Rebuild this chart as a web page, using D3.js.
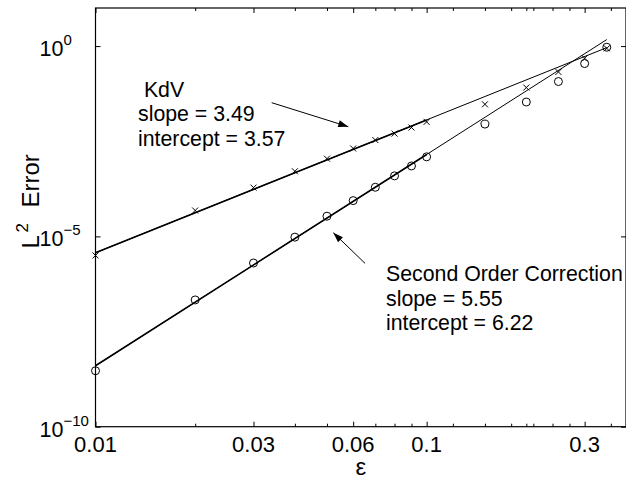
<!DOCTYPE html>
<html>
<head>
<meta charset="utf-8">
<script src="https://cdn.jsdelivr.net/npm/d3@7"></script>
<style>
  body { margin: 0; background: #fff; }
  svg { display: block; font-family: "Liberation Sans", Arial, Helvetica, sans-serif; }
</style>
</head>
<body>
<svg></svg>
<script>
// epsilon values used in the runs
let epsilon = [0.01, 0.02, 0.03, 0.04, 0.05, 0.06, 0.07, 0.08, 0.09, 0.1, 0.15, 0.2, 0.25, 0.3, 0.35]
// L2 error of the KdV approximation (x markers)
let kdvError = [3.16e-6, 4.79e-5, 1.91e-4, 5.13e-4, 1.10e-3, 2.04e-3, 3.39e-3, 5.01e-3, 7.24e-3, 1.02e-2, 2.95e-2, 8.13e-2, 0.209, 0.479, 0.871]
// L2 error with the second order correction (o markers)
let secondError = [2.95e-9, 2.14e-7, 2.0e-6, 9.55e-6, 3.39e-5, 8.71e-5, 1.95e-4, 3.89e-4, 7.08e-4, 1.23e-3, 8.91e-3, 3.39e-2, 0.117, 0.347, 0.933]

// least squares fits, ln(err) = slope*ln(eps) + intercept
let fitNames = ['KdV', 'Second Order Correction']
let fitSlopes = [3.49, 5.55]
let fitIntercepts = [3.57, 6.22]
// fit was done on the points up to this epsilon
let fitRangeEnd = 0.1

// ticks
let xMajorTicks = [0.01, 0.03, 0.06, 0.1, 0.3]
let xMinorTicks = [0.02, 0.04, 0.05, 0.07, 0.08, 0.09, 0.12, 0.15, 0.18, 0.2, 0.21, 0.24, 0.27, 0.36]
let yTicks = [1e-10, 1e-5, 1e0]
let yTickExponents = ['\u221210', '\u22125', '0']

let width = 626
let height = 481
let plotLeft = 95.5
let plotRight = 626
let plotTop = 8
let plotBottom = 426.7

let svg = d3.select('svg')
svg.attr('width', width).attr('height', height)

let xScale = d3.scaleLog().domain([0.01, 0.4]).range([plotLeft, plotRight])
let yScale = d3.scaleLog().domain([1e-10, 10]).range([plotBottom, plotTop])

// frame
svg.append('rect')
    .attr('x', plotLeft).attr('y', plotTop)
    .attr('width', plotRight - plotLeft).attr('height', plotBottom - plotTop)
    .attr('fill', 'none').attr('stroke', '#000').attr('stroke-width', 1.2)

// x ticks, inward on bottom and top
let drawXTicks = (ticks, len) => {
    let bx = d3.axisBottom(xScale).tickValues(ticks).tickSize(-len).tickFormat('')
    svg.append('g').attr('transform', 'translate(0,' + plotBottom + ')').call(bx)
    let tx = d3.axisTop(xScale).tickValues(ticks).tickSize(-len).tickFormat('')
    svg.append('g').attr('transform', 'translate(0,' + plotTop + ')').call(tx)
}
drawXTicks(xMajorTicks, 5)
drawXTicks(xMinorTicks, 3)

let ly = d3.axisLeft(yScale).tickValues(yTicks).tickSize(-5).tickFormat('')
svg.append('g').attr('transform', 'translate(' + plotLeft + ',0)').call(ly)
let ry = d3.axisRight(yScale).tickValues(yTicks).tickSize(-5).tickFormat('')
svg.append('g').attr('transform', 'translate(' + plotRight + ',0)').call(ry)

svg.selectAll('.domain').remove()
svg.selectAll('.tick line').attr('stroke', '#000').attr('stroke-width', 1)

// x tick labels
svg.selectAll('.xlab')
    .data(xMajorTicks)
    .enter()
    .append('text')
    .attr('x', d => xScale(d))
    .attr('y', 451.5)
    .attr('text-anchor', 'middle')
    .attr('font-size', 22)
    .text(d => d)

// y tick labels 10^n
let ylab = svg.selectAll('.ylab')
    .data(yTicks)
    .enter()
    .append('text')
    .attr('x', 39.5)
    .attr('y', d => yScale(d) + 10)
    .attr('font-size', 21.5)
ylab.append('tspan').text('10')
ylab.append('tspan')
    .attr('dy', -11)
    .attr('font-size', 15)
    .text((d, i) => yTickExponents[i])

// axis labels
svg.append('text')
    .attr('x', (plotLeft + plotRight) / 2)
    .attr('y', 475)
    .attr('text-anchor', 'middle')
    .attr('font-size', 24)
    .text('\u03b5')

let yl = svg.append('text')
    .attr('transform', 'translate(38.5,248.5) rotate(-90)')
    .attr('font-size', 24)
yl.append('tspan').attr('x', 0).text('L')
yl.append('tspan').attr('x', 16).attr('dy', -11).attr('font-size', 17).text('2')
yl.append('tspan').attr('x', 41).attr('dy', 11).text('Error')

// fit lines
let fitLine = d3.line()
    .x(d => xScale(d[0]))
    .y(d => yScale(d[1]))

fitSlopes.forEach((s, i) => {
    let f = x => Math.exp(fitIntercepts[i]) * Math.pow(x, s)
    let x0 = epsilon[0]
    let x1 = epsilon[epsilon.length - 1]
    svg.append('path')
        .attr('d', fitLine([[x0, f(x0)], [x1, f(x1)]]))
        .attr('fill', 'none').attr('stroke', '#000').attr('stroke-width', 1)
    svg.append('path')
        .attr('d', fitLine([[x0, f(x0)], [fitRangeEnd, f(fitRangeEnd)]]))
        .attr('fill', 'none').attr('stroke', '#000').attr('stroke-width', 1.6)
})

// x markers for KdV
svg.selectAll('.kdv')
    .data(epsilon)
    .enter()
    .append('path')
    .attr('d', (d, i) => {
        let cx = xScale(d), cy = yScale(kdvError[i])
        return 'M' + (cx - 3) + ',' + (cy - 3) + 'L' + (cx + 3) + ',' + (cy + 3) +
               'M' + (cx - 3) + ',' + (cy + 3) + 'L' + (cx + 3) + ',' + (cy - 3)
    })
    .attr('stroke', '#000').attr('stroke-width', 1).attr('fill', 'none')

// o markers for second order correction
svg.selectAll('.soc')
    .data(epsilon)
    .enter()
    .append('circle')
    .attr('cx', d => xScale(d))
    .attr('cy', (d, i) => yScale(secondError[i]))
    .attr('r', 4)
    .attr('fill', 'none').attr('stroke', '#000').attr('stroke-width', 1)

// annotations
let arrow = (x1, y1, x2, y2) => {
    svg.append('line')
        .attr('x1', x1).attr('y1', y1).attr('x2', x2).attr('y2', y2)
        .attr('stroke', '#000').attr('stroke-width', 1)
    let a = Math.atan2(y2 - y1, x2 - x1)
    let L = 10, W = 3.5
    let bx = x2 - L * Math.cos(a), by = y2 - L * Math.sin(a)
    let px = -Math.sin(a) * W, py = Math.cos(a) * W
    svg.append('path')
        .attr('d', 'M' + x2 + ',' + y2 + 'L' + (bx + px) + ',' + (by + py) + 'L' + (bx - px) + ',' + (by - py) + 'Z')
        .attr('fill', '#000')
}
arrow(271.7, 102.7, 348.3, 126.7)
arrow(365, 263.3, 333.3, 232.7)

let note = (x, y, lines) => {
    lines.forEach((t, i) => {
        svg.append('text')
            .attr('x', x).attr('y', y + i * 24.5)
            .attr('font-size', 21.3)
            .style('white-space', 'pre')
            .text(t)
    })
}
note(138, 96.5, [' ' + fitNames[0], 'slope = ' + fitSlopes[0], 'intercept = ' + fitIntercepts[0]])
note(386, 281, [fitNames[1], 'slope = ' + fitSlopes[1], 'intercept = ' + fitIntercepts[1]])
</script>
</body>
</html>
